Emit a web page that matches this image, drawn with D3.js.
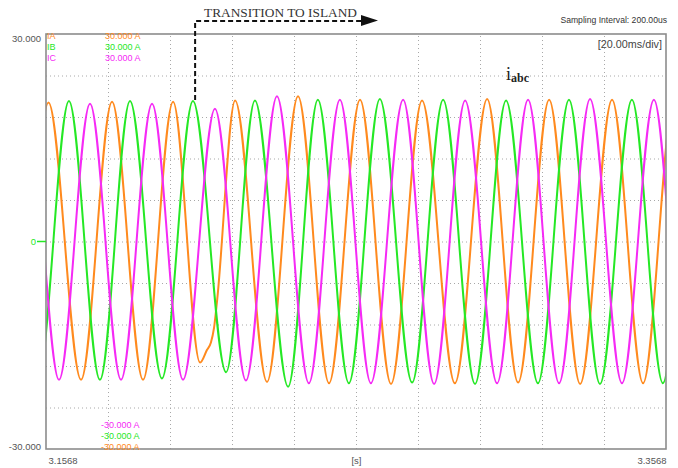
<!DOCTYPE html>
<html lang="en">
<head>
<meta charset="UTF-8">
<title>iabc transition to island</title>
<script src="https://cdn.jsdelivr.net/npm/d3@7"></script>
<style>
  body { margin: 0; background: #fff; }
  svg text { font-family: "Liberation Sans", Arial, sans-serif; }
  svg text.serif { font-family: "Liberation Serif", "Times New Roman", serif; }
</style>
</head>
<body>
<div id="chart"></div>
<script>
// data (time in ms from window start, current in A), read as peaks/troughs
const iaTime  = [-19.3, -9.3, 0.8, 11.3, 21.3, 31.3, 41.0, 49.7, 51.9, 53.2, 54.2, 55.2, 61.0, 71.3, 81.3, 91.3, 101.3, 111.3, 121.3, 131.9, 142.3, 152.3, 162.3, 172.3, 182.6, 192.6, 202.6, 212.6]
const iaValue = [20.0, -20.0, 20.1, -20.0, 20.2, -20.0, 20.2, -17.5, -15.7, -14.6, -12.5, -8.5, 20.4, -20.3, 21.0, -20.5, 20.5, -20.6, 20.4, -20.5, 20.6, -20.4, 20.5, -20.6, 20.5, -20.5, 20.5, -20.5]
const ibTime  = [-12.6, -2.6, 7.4, 17.4, 27.1, 37.4, 47.4, 58.1, 67.4, 78.1, 87.7, 97.7, 107.7, 118.1, 128.1, 138.4, 148.4, 158.7, 168.7, 178.7, 189.0, 199.0, 209.0, 219.0]
const ibValue = [20.0, -20.0, 20.3, -20.0, 20.3, -19.8, 20.3, -18.9, 20.4, -21.0, 20.5, -20.5, 20.6, -20.4, 20.5, -20.6, 20.4, -20.5, 20.5, -20.6, 20.5, -20.5, 20.5, -20.5]
const icTime  = [-15.8, -5.8, 4.2, 14.2, 24.2, 34.2, 44.2, 54.5, 64.5, 74.5, 84.8, 94.8, 104.8, 115.2, 125.2, 135.2, 145.5, 155.5, 165.5, 175.5, 185.8, 196.1, 206.1, 216.1]
const icValue = [-20.0, 20.0, -20.0, 19.9, -20.0, 19.9, -20.0, 19.2, -20.1, 21.0, -20.5, 20.5, -20.5, 20.5, -20.6, 20.4, -20.5, 20.5, -20.5, 20.6, -20.5, 20.5, -20.5, 20.5]

const seriesNames = ['IA', 'IB', 'IC']
const seriesColors = ['#ff8a1e', '#25e825', '#f52af5']
const xDomain = [0, 200]          // ms, 20 ms/div
const xTickLabels = ['3.1568', '[s]', '3.3568']
const yDomain = [-30, 30]
const yTickLabels = ['-30.000', '0', '30.000']
const transitionT = 48.1

// layout
const W = 678, H = 468
const pl = 46, pr = 666, pt = 34, pb = 449

const svg = d3.select('#chart').append('svg').attr('width', W).attr('height', H)
const x = d3.scaleLinear().domain(xDomain).range([pl, pr])
const y = d3.scaleLinear().domain(yDomain).range([pb, pt])

// grid
const gridV = d3.axisBottom(x).tickValues(d3.range(20, 200, 20)).tickSize(-(pb - pt)).tickFormat('')
svg.append('g').attr('transform', 'translate(0,' + pb + ')').call(gridV)
    .call(g => g.select('.domain').remove())
    .selectAll('line').attr('stroke', '#a8a8a8').attr('stroke-dasharray', '1,3')
const gridH = d3.axisLeft(y).tickValues(d3.range(-24, 25, 6)).tickSize(-(pr - pl)).tickFormat('')
svg.append('g').attr('transform', 'translate(' + pl + ',0)').call(gridH)
    .call(g => g.select('.domain').remove())
    .selectAll('line').attr('stroke', '#a8a8a8').attr('stroke-dasharray', '1,3')

// waves
svg.append('clipPath').attr('id', 'clip').append('rect')
    .attr('x', pl).attr('y', pt).attr('width', pr - pl).attr('height', pb - pt)
const line = d3.line().x(d => x(d[0])).y(d => y(d[1])).curve(d3.curveMonotoneX)
const waves = [d3.zip(iaTime, iaValue), d3.zip(ibTime, ibValue), d3.zip(icTime, icValue)]
svg.append('g').attr('clip-path', 'url(#clip)')
    .selectAll('path').data(waves).join('path')
    .attr('d', line).attr('fill', 'none')
    .attr('stroke', (d, i) => seriesColors[i]).attr('stroke-width', 2)

// frame
svg.append('rect').attr('x', pl).attr('y', pt).attr('width', pr - pl).attr('height', pb - pt)
    .attr('fill', 'none').attr('stroke', '#8c8c8c').attr('stroke-width', 1.6)

// y labels
const yAxis = d3.axisLeft(y).tickValues([-30, 0, 30]).tickSize(0).tickPadding(5)
    .tickFormat((d, i) => yTickLabels[i])
const ya = svg.append('g').attr('transform', 'translate(' + pl + ',0)').call(yAxis)
ya.select('.domain').remove()
ya.selectAll('text').attr('font-size', 9.5).attr('fill', '#555')
ya.selectAll('.tick').filter(d => d === 30).select('text').attr('dy', '0.75em')
ya.selectAll('.tick').filter(d => d === -30).select('text').attr('dy', '0.1em')
ya.selectAll('.tick').filter(d => d === 0).select('text').attr('fill', '#25e825').attr('x', -10)
svg.append('line').attr('x1', pl - 9).attr('x2', pl).attr('y1', y(0)).attr('y2', y(0))
    .attr('stroke', '#25e825').attr('stroke-width', 1.5)

// x labels
const xa = svg.append('g').attr('transform', 'translate(0,' + pb + ')')
    .call(d3.axisBottom(x).tickValues([0, 100, 200]).tickSize(0).tickPadding(8)
        .tickFormat((d, i) => xTickLabels[i]))
xa.select('.domain').remove()
xa.selectAll('text').attr('font-size', 9.5).attr('fill', '#555')
xa.selectAll('.tick').filter(d => d === 0).select('text').attr('text-anchor', 'start').attr('x', 2)
xa.selectAll('.tick').filter(d => d === 200).select('text').attr('text-anchor', 'end')

// channel legends (top: IA,IB,IC; bottom: IC,IB,IA)
seriesNames.forEach((n, i) => {
    svg.append('text').attr('x', pl + 1).attr('y', 38.5 + i * 11).text(n)
        .attr('font-size', 9).attr('fill', seriesColors[i])
    svg.append('text').attr('x', 105).attr('y', 38.5 + i * 11).text(yDomain[1].toFixed(3) + ' A')
        .attr('font-size', 9).attr('fill', seriesColors[i])
    svg.append('text').attr('x', 101).attr('y', 450 - i * 11).text(yDomain[0].toFixed(3) + ' A')
        .attr('font-size', 9).attr('fill', seriesColors[i])
})

svg.append('text').attr('x', 667).attr('y', 23).attr('text-anchor', 'end')
    .attr('font-size', 8.6).attr('fill', '#333').text('Sampling Interval:  200.00us')
svg.append('text').attr('x', 662).attr('y', 48).attr('text-anchor', 'end')
    .attr('font-size', 10.8).attr('fill', '#444').text('[20.00ms/div]')

// annotation
const tx = x(transitionT)
svg.append('path').attr('d', 'M' + tx + ',' + 100 + 'V21H362')
    .attr('fill', 'none').attr('stroke', '#111').attr('stroke-width', 2).attr('stroke-dasharray', '5,3')
svg.append('path').attr('d', 'M361,15L378,20.5L361,26Z').attr('fill', '#111')
svg.append('text').attr('class', 'serif').attr('x', 204).attr('y', 17).text('TRANSITION TO ISLAND')
    .attr('font-size', 13).attr('fill', '#333')
    .attr('textLength', 153).attr('lengthAdjust', 'spacingAndGlyphs')

const lbl = svg.append('text').attr('class', 'serif').attr('x', 506).attr('y', 80).attr('fill', '#222')
lbl.append('tspan').text('i').attr('font-size', 18)
lbl.append('tspan').text('abc').attr('font-size', 12).attr('font-weight', 'bold').attr('dy', 2)
</script>
</body>
</html>
